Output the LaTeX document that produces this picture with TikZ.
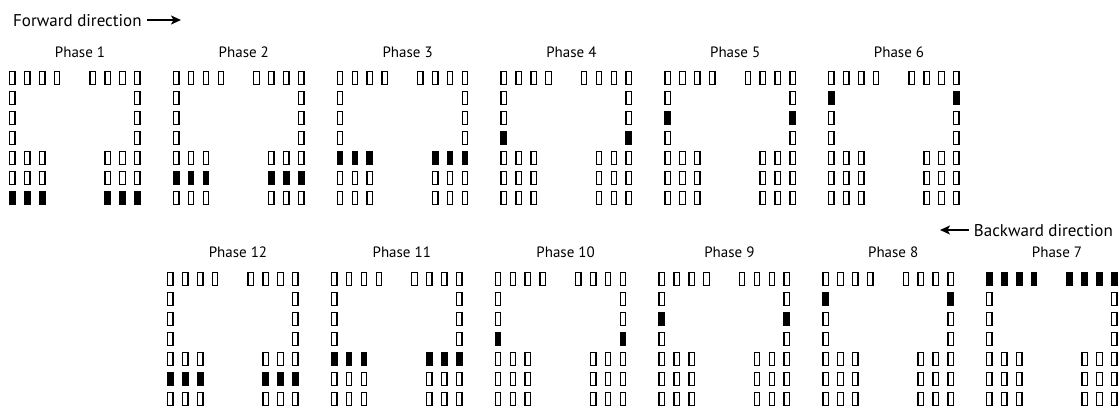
\documentclass[tikz,border=0pt]{standalone}
\usepackage{fontspec}
\setmainfont{PT Sans}
\usetikzlibrary{arrows.meta}
\tikzset{
  celloff/.style={draw=black, fill=white, line width=1.3pt, inner sep=0pt, outer sep=0pt,
    minimum width=5.4pt, minimum height=12.7pt, anchor=north west},
  cellon/.style={celloff, fill=black},
  lbl/.style={font=\fontsize{15}{18}\selectfont, inner sep=0pt, anchor=base},
  dirlbl/.style={font=\fontsize{17}{20}\selectfont, inner sep=0pt},
  dirarrow/.style={line width=1.3pt, -{Stealth[length=10pt,width=9pt,inset=2.5pt]}},
}
\newcommand\phasegrid[4]{%
  % #1 x0, #2 y0 (top), #3 filled row, #4 phase number
  \foreach \r/\cols in {1/{1,2,3,4,5,6,7,8},2/{1,8},3/{1,8},4/{1,8},5/{1,2,3,6,7,8},6/{1,2,3,6,7,8},7/{1,2,3,6,7,8}}{%
    \foreach \c in \cols {%
      \pgfmathsetmacro\cx{#1+0.65+{0,14.9,29.8,44.7,80.3,95.2,110.1,125}[\c-1]}%
      \pgfmathsetmacro\cy{#2+0.65+20*(\r-1)}%
      \ifnum\r=#3\relax
        \node[cellon] (p#4r\r c\c) at (\cx,\cy) {};
      \else
        \node[celloff] (p#4r\r c\c) at (\cx,\cy) {};
      \fi
    }%
  }%
}
\begin{document}
\begin{tikzpicture}[x=1pt,y=-1pt]
\useasboundingbox (0,0) rectangle (1119,410);
% direction labels
\node[dirlbl, anchor=base west] (fwd) at (13,26) {Forward direction};
\coordinate (fwdend) at (181,20);
\draw[dirarrow] ([xshift=5pt,yshift=6pt]fwd.base east) -- (fwdend);
\node[dirlbl, anchor=base east] (bwd) at (1113,236) {Backward direction};
\coordinate (bwdend) at (940,230);
\draw[dirarrow] ([xshift=-5pt,yshift=6pt]bwd.base west) -- (bwdend);
% upper row: phases 1-6
\foreach \p in {1,...,6}{%
  \pgfmathsetmacro\xo{9+163.8*(\p-1)}%
  \pgfmathtruncatemacro\fr{8-\p}%
  \node[lbl] (lab\p) at (\xo+71,57) {Phase \p};
  \phasegrid{\xo}{71}{\fr}{\p}
}
% lower row: phases 7-12
\foreach \p in {7,...,12}{%
  \pgfmathsetmacro\xo{986-163.8*(\p-7)}%
  \pgfmathtruncatemacro\fr{\p==7 ? 1 : \p-6}%
  \node[lbl] (lab\p) at (\xo+71,257) {Phase \p};
  \phasegrid{\xo}{272}{\fr}{\p}
}
\end{tikzpicture}
\end{document}
